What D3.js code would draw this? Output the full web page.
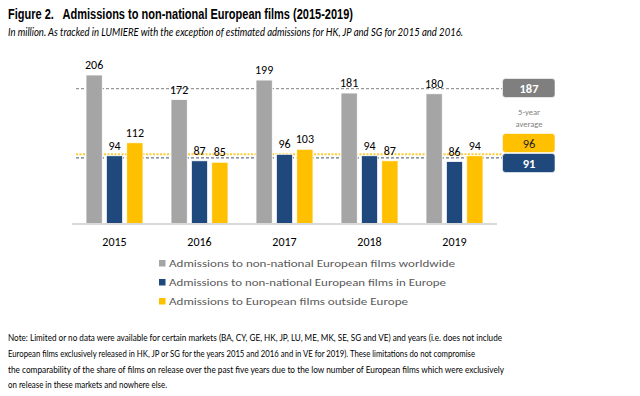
<!DOCTYPE html>
<html lang="en">
<head>
<meta charset="utf-8">
<title>Admissions to non-national European films</title>
<script src="https://cdn.jsdelivr.net/npm/d3@7"></script>
<style>
  html, body { margin: 0; padding: 0; background: #fff; }
  svg { display: block; font-family: Carlito, "Open Sans", Lato, sans-serif; }
  .lbl { font-family: Carlito, "Open Sans", sans-serif; }
</style>
</head>
<body>
<div id="chart"></div>
<script>
// data
var years = ["2015", "2016", "2017", "2018", "2019"];
var seriesNames = [
  "Admissions to non-national European films worldwide",
  "Admissions to non-national European films in Europe",
  "Admissions to European films outside Europe"
];
var worldwide = [206, 172, 199, 181, 180];
var inEurope = [94, 87, 96, 94, 86];
var outsideEurope = [112, 85, 103, 87, 94];
var averages = [187, 96, 91];   // worldwide, outside Europe, in Europe
var colors = ["#a5a5a5", "#1f497d", "#ffc000"];

var noteLines = [
  "Note: Limited or no data were available for certain markets (BA, CY, GE, HK, JP, LU, ME, MK, SE, SG and VE) and years (i.e. does not include",
  "European films exclusively released in HK, JP or SG for the years 2015 and 2016 and in VE for 2019). These limitations do not compromise",
  "the comparability of the share of films on release over the past five years due to the low number of European films which were exclusively",
  "on release in these markets and nowhere else."
];
var noteWidths = [494, 467, 496, 159];

var w = 640, h = 396;
var svg = d3.select("#chart").append("svg").attr("width", w).attr("height", h);

// titles
svg.append("text").attr("x", 8).attr("y", 19)
  .style("font-family", "'Liberation Sans Narrow', 'Liberation Sans', sans-serif")
  .style("font-weight", "bold").style("font-size", "14.5px").style("white-space", "pre")
  .attr("fill", "#000")
  .attr("textLength", 345).attr("lengthAdjust", "spacingAndGlyphs")
  .text("Figure 2.   Admissions to non-national European films (2015-2019)");
svg.append("text").attr("x", 8).attr("y", 36)
  .style("font-family", "Lato, sans-serif")
  .style("font-style", "italic").style("font-size", "11px").attr("fill", "#000")
  .attr("textLength", 455).attr("lengthAdjust", "spacingAndGlyphs")
  .text("In million. As tracked in LUMIERE with the exception of estimated admissions for HK, JP and SG for 2015 and 2016.");

// scales
var x0 = d3.scaleBand().domain(years).range([72, 497]);
var x1 = d3.scaleBand().domain([0, 1, 2]).range([-28.5, 28.5]).paddingInner(0.2);
var y = d3.scaleLinear().domain([0, 206]).range([223.5, 75]);

var rows = years.map(function(yr, i) {
  return { year: yr, vals: [worldwide[i], inEurope[i], outsideEurope[i]] };
});

// average lines
var avgStyles = [
  { color: "#7f7f7f", dash: "3,2", width: 1 },
  { color: "#ffc000", dash: "2,1.5", width: 2 },
  { color: "#44546a", dash: "3,2", width: 1 }
];
averages.forEach(function(v, i) {
  svg.append("line")
    .attr("x1", 76).attr("x2", 502)
    .attr("y1", y(v)).attr("y2", y(v))
    .attr("stroke", avgStyles[i].color)
    .attr("stroke-width", avgStyles[i].width)
    .attr("stroke-dasharray", avgStyles[i].dash)
    .attr("opacity", i == 1 ? 0.8 : 1);
});

// bars
var groups = svg.selectAll("g.year").data(rows).enter().append("g")
  .attr("class", "year")
  .attr("transform", function(d) { return "translate(" + (x0(d.year) + x0.bandwidth() / 2) + ",0)"; });

groups.selectAll("rect").data(function(d) { return d.vals; }).enter().append("rect")
  .attr("x", function(d, i) { return x1(i); })
  .attr("width", x1.bandwidth())
  .attr("y", function(d) { return y(d); })
  .attr("height", function(d) { return y(0) - y(d); })
  .attr("fill", function(d, i) { return colors[i]; })
  .attr("stroke", "#ffffff").attr("stroke-width", 0.8);

groups.selectAll("text.val").data(function(d) { return d.vals; }).enter().append("text")
  .attr("class", "val lbl")
  .attr("x", function(d, i) { return x1(i) + x1.bandwidth() / 2; })
  .attr("y", function(d) { return y(d) - 6; })
  .attr("text-anchor", "middle")
  .style("font-size", "12px").attr("fill", "#000")
  .text(function(d) { return d; });

// axis baseline
svg.append("line").attr("x1", 72).attr("x2", 497)
  .attr("y1", y(0) + 0.5).attr("y2", y(0) + 0.5)
  .attr("stroke", "#d9d9d9").attr("stroke-width", 2);

svg.selectAll("text.yr").data(years).enter().append("text")
  .attr("class", "yr lbl")
  .attr("x", function(d) { return x0(d) + x0.bandwidth() / 2; })
  .attr("y", 246)
  .attr("text-anchor", "middle")
  .style("font-size", "12px").attr("fill", "#000")
  .text(function(d) { return d; });

// average badges
var badges = [
  { v: averages[0], y0: 78.5, fill: "#7f7f7f", txt: "#fff", bold: true },
  { v: averages[1], y0: 133.5, fill: "#ffc000", txt: "#262626", bold: false },
  { v: averages[2], y0: 153.5, fill: "#1f497d", txt: "#fff", bold: true }
];
badges.forEach(function(b) {
  svg.append("rect").attr("x", 502.5).attr("y", b.y0)
    .attr("width", 52.5).attr("height", 19).attr("rx", 3)
    .attr("fill", b.fill).attr("stroke", "#ffffff").attr("stroke-width", 0.6);
  svg.append("text").attr("class", "lbl").attr("x", 529).attr("y", b.y0 + 14)
    .attr("text-anchor", "middle").style("font-size", "12.5px")
    .style("font-weight", b.bold ? "bold" : "normal")
    .attr("fill", b.txt).text(b.v);
});
svg.append("text").attr("x", 529).attr("y", 115).attr("text-anchor", "middle")
  .style("font-size", "8.5px").attr("fill", "#7f7f7f").text("5-year");
svg.append("text").attr("x", 529).attr("y", 126.5).attr("text-anchor", "middle")
  .style("font-size", "8.5px").attr("fill", "#7f7f7f").text("average");

// legend
var legendW = [286, 277, 239];
var legend = svg.selectAll("g.leg").data(seriesNames).enter().append("g")
  .attr("class", "leg")
  .attr("transform", function(d, i) { return "translate(159," + (267 + i * 19) + ")"; });
legend.append("rect").attr("x", 0).attr("y", -7).attr("width", 6.5).attr("height", 6.5)
  .attr("fill", function(d, i) { return colors[i]; });
legend.append("text").attr("x", 10).attr("y", 0)
  .style("font-size", "11px").attr("fill", "#595959")
  .attr("textLength", function(d, i) { return legendW[i]; })
  .attr("lengthAdjust", "spacingAndGlyphs")
  .text(function(d) { return d; });

// note
svg.selectAll("text.note").data(noteLines).enter().append("text")
  .attr("class", "note")
  .attr("x", 8)
  .attr("y", function(d, i) { return 341 + i * 15.8; })
  .style("font-family", "Lato, sans-serif")
  .style("font-size", "10px").attr("fill", "#000")
  .attr("textLength", function(d, i) { return noteWidths[i]; })
  .attr("lengthAdjust", "spacingAndGlyphs")
  .text(function(d) { return d; });
</script>
</body>
</html>
